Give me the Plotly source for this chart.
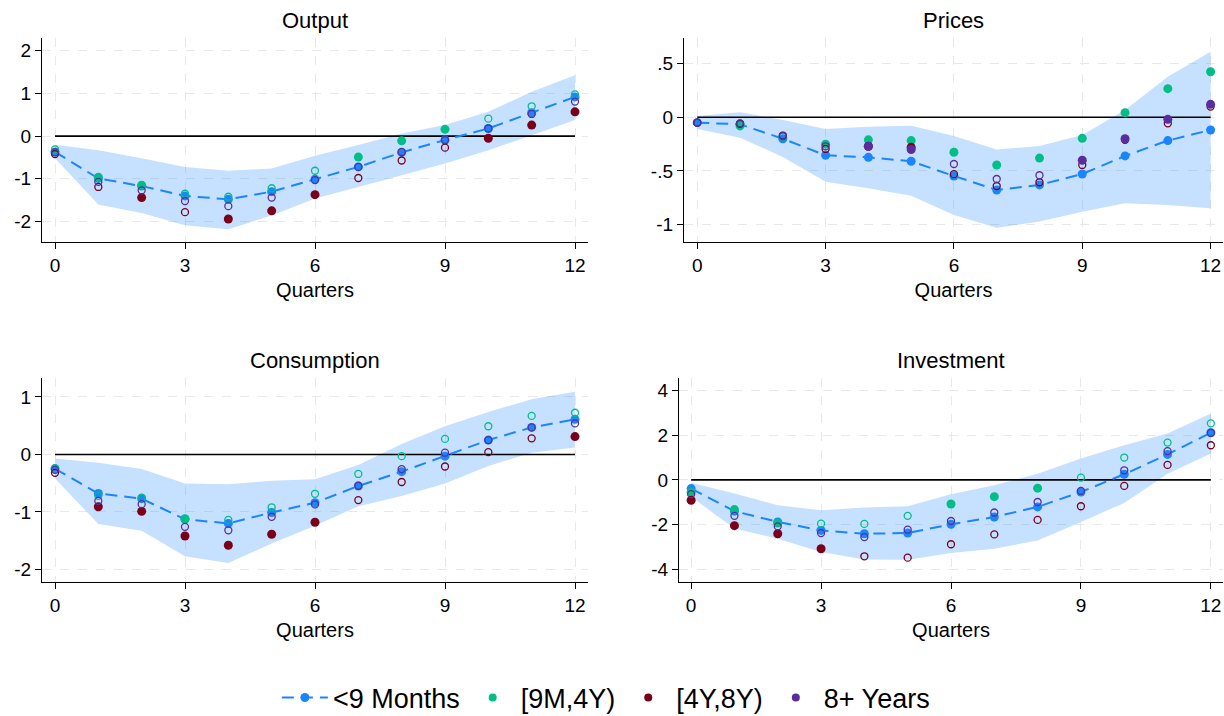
import plotly.graph_objects as go

quarters = list(range(13))

# ---------------- Output ----------------
out_blue = [-0.37, -0.99, -1.17, -1.40, -1.48, -1.30, -1.01, -0.72, -0.38, -0.09, 0.18, 0.55, 0.92]
out_hi = [-0.20, -0.33, -0.52, -0.72, -0.81, -0.76, -0.46, -0.21, 0.06, 0.26, 0.57, 1.04, 1.43]
out_lo = [-0.52, -1.60, -1.80, -2.09, -2.18, -1.86, -1.46, -1.19, -0.92, -0.64, -0.33, 0.02, 0.38]
out_green = [-0.31, -0.96, -1.15, -1.35, -1.42, -1.22, -0.81, -0.49, -0.11, 0.16, 0.41, 0.70, 0.98]
out_green_sig = [0, 1, 1, 0, 0, 0, 0, 1, 1, 1, 0, 0, 0]
out_red = [-0.42, -1.19, -1.44, -1.78, -1.94, -1.75, -1.37, -0.98, -0.57, -0.27, -0.05, 0.26, 0.57]
out_red_sig = [0, 0, 1, 0, 1, 1, 1, 0, 0, 0, 1, 1, 1]
out_purple = [-0.38, -1.07, -1.27, -1.52, -1.64, -1.44, -1.03, -0.72, -0.37, -0.09, 0.18, 0.52, 0.81]
out_purple_sig = [0, 0, 0, 0, 0, 0, 0, 0, 0, 0, 0, 0, 0]

# ---------------- Prices ----------------
pr_blue = [-0.05, -0.065, -0.20, -0.354, -0.373, -0.41, -0.547, -0.677, -0.63, -0.528, -0.36, -0.217, -0.118]
pr_hi = [0.012, 0.047, -0.025, -0.11, -0.087, -0.078, -0.174, -0.30, -0.267, -0.165, 0.068, 0.379, 0.612]
pr_lo = [-0.11, -0.19, -0.37, -0.60, -0.66, -0.73, -0.91, -1.03, -0.97, -0.88, -0.80, -0.817, -0.848]
pr_green = [-0.05, -0.08, -0.18, -0.25, -0.21, -0.217, -0.326, -0.444, -0.38, -0.196, 0.043, 0.267, 0.425]
pr_green_sig = [0, 1, 0, 1, 1, 1, 1, 1, 1, 1, 1, 1, 1]
pr_red = [-0.05, -0.06, -0.17, -0.295, -0.27, -0.28, -0.53, -0.64, -0.605, -0.444, -0.21, -0.056, 0.10]
pr_red_sig = [0, 0, 0, 0, 1, 1, 0, 0, 0, 0, 0, 0, 0]
pr_purple = [-0.05, -0.056, -0.174, -0.27, -0.27, -0.30, -0.435, -0.575, -0.54, -0.40, -0.20, -0.019, 0.121]
pr_purple_sig = [0, 0, 0, 0, 1, 1, 0, 0, 0, 1, 1, 1, 1]

# ---------------- Consumption ----------------
co_blue = [-0.25, -0.68, -0.77, -1.13, -1.20, -1.01, -0.84, -0.55, -0.30, -0.03, 0.25, 0.47, 0.61]
co_hi = [-0.07, -0.145, -0.255, -0.505, -0.517, -0.46, -0.43, -0.186, 0.18, 0.49, 0.74, 0.96, 1.09]
co_lo = [-0.42, -1.21, -1.33, -1.77, -1.89, -1.55, -1.24, -0.90, -0.725, -0.505, -0.20, 0.03, 0.12]
co_green = [-0.24, -0.72, -0.75, -1.12, -1.14, -0.92, -0.685, -0.34, -0.03, 0.27, 0.49, 0.67, 0.725]
co_green_sig = [0, 0, 0, 1, 0, 0, 0, 0, 0, 0, 0, 0, 0]
co_red = [-0.32, -0.91, -0.99, -1.42, -1.58, -1.39, -1.18, -0.795, -0.48, -0.21, 0.04, 0.28, 0.31]
co_red_sig = [0, 1, 1, 1, 1, 1, 1, 0, 0, 0, 0, 0, 1]
co_purple = [-0.27, -0.81, -0.865, -1.26, -1.32, -1.085, -0.87, -0.545, -0.255, 0.03, 0.25, 0.47, 0.54]
co_purple_sig = [0, 0, 0, 0, 0, 0, 0, 0, 0, 0, 0, 0, 0]

# ---------------- Investment ----------------
in_blue = [-0.39, -1.40, -1.88, -2.26, -2.41, -2.38, -1.99, -1.66, -1.21, -0.54, 0.25, 1.14, 2.11]
in_hi = [-0.13, -0.61, -1.14, -1.36, -1.24, -1.18, -0.64, -0.24, 0.28, 0.96, 1.55, 2.08, 2.97]
in_lo = [-0.76, -2.18, -2.63, -3.23, -3.56, -3.57, -3.27, -3.08, -2.71, -1.88, -1.03, 0.28, 1.18]
in_green = [-0.55, -1.33, -1.93, -1.96, -1.97, -1.61, -1.08, -0.75, -0.37, 0.10, 1.00, 1.67, 2.53]
in_green_sig = [1, 1, 1, 0, 0, 0, 1, 1, 1, 0, 0, 0, 0]
in_red = [-0.91, -2.05, -2.41, -3.08, -3.42, -3.48, -2.88, -2.44, -1.79, -1.18, -0.27, 0.67, 1.55]
in_red_sig = [1, 1, 1, 1, 0, 0, 0, 0, 0, 0, 0, 0, 0]
in_purple = [-0.64, -1.61, -2.08, -2.38, -2.56, -2.23, -1.84, -1.46, -0.99, -0.49, 0.43, 1.29, 2.11]
in_purple_sig = [0, 0, 0, 0, 0, 0, 0, 0, 0, 0, 0, 0, 0]

panel_titles = ["Output", "Prices", "Consumption", "Investment"]
series_names = ["<9 Months", "[9M,4Y)", "[4Y,8Y)", "8+ Years"]
x_ticks = [0, 3, 6, 9, 12]
y_ticks = [[-2, -1, 0, 1, 2], [-1, -0.5, 0, 0.5], [-2, -1, 0, 1], [-4, -2, 0, 2, 4]]
y_ticktext = [["-2", "-1", "0", "1", "2"], ["-1", "-.5", "0", ".5"], ["-2", "-1", "0", "1"], ["-4", "-2", "0", "2", "4"]]

BLUE = "#1a85ff"
BAND = "rgba(26,133,255,0.25)"
GREEN = "#00bf86"
RED = "#7a0019"
PURPLE = "#5a2d9e"
FONT = "Arial, Liberation Sans, Helvetica, sans-serif"

panels = [
    (out_blue, out_hi, out_lo, [(out_green, out_green_sig), (out_red, out_red_sig), (out_purple, out_purple_sig)]),
    (pr_blue, pr_hi, pr_lo, [(pr_green, pr_green_sig), (pr_red, pr_red_sig), (pr_purple, pr_purple_sig)]),
    (co_blue, co_hi, co_lo, [(co_green, co_green_sig), (co_red, co_red_sig), (co_purple, co_purple_sig)]),
    (in_blue, in_hi, in_lo, [(in_green, in_green_sig), (in_red, in_red_sig), (in_purple, in_purple_sig)]),
]

W, H = 1224, 716
# pixel boxes of plot areas: (left, right, top, bottom)
boxes = [(42, 588, 38, 242), (684, 1223, 38, 242), (42, 588, 378, 582), (679, 1223, 378, 582)]
x_ranges = [[-0.30, 12.30], [-0.31, 12.29], [-0.30, 12.30], [-0.28, 12.28]]
y_ranges = [[-2.48, 2.30], [-1.162, 0.739], [-2.22, 1.33], [-4.57, 4.56]]

fig = go.Figure()
group_colors = [GREEN, RED, PURPLE]

for i, (blue, hi, lo, groups) in enumerate(panels):
    xa = "x" if i == 0 else f"x{i+1}"
    ya = "y" if i == 0 else f"y{i+1}"
    # confidence band
    fig.add_trace(go.Scatter(x=quarters + quarters[::-1], y=hi + lo[::-1], fill="toself",
                             fillcolor=BAND, line=dict(width=0), mode="lines",
                             hoverinfo="skip", showlegend=False, xaxis=xa, yaxis=ya))
    # zero line
    fig.add_trace(go.Scatter(x=[quarters[0], quarters[-1]], y=[0, 0], mode="lines",
                             line=dict(color="black", width=1.6), showlegend=False,
                             hoverinfo="skip", xaxis=xa, yaxis=ya))
    # <9 months
    fig.add_trace(go.Scatter(x=quarters, y=blue, mode="lines+markers",
                             line=dict(color=BLUE, width=2, dash="12px,7px"),
                             marker=dict(color=BLUE, size=9),
                             name=series_names[0], showlegend=(i == 0), legendgroup="g0",
                             xaxis=xa, yaxis=ya))
    for g, ((vals, sig), col) in enumerate(zip(groups, group_colors)):
        xf = [q for q, s in zip(quarters, sig) if s]
        yf = [v for v, s in zip(vals, sig) if s]
        xh = [q for q, s in zip(quarters, sig) if not s]
        yh = [v for v, s in zip(vals, sig) if not s]
        fig.add_trace(go.Scatter(x=xh, y=yh, mode="markers",
                                 marker=dict(symbol="circle-open", color=col, size=7,
                                             line=dict(color=col, width=1.3)),
                                 showlegend=False, legendgroup=f"g{g+1}", xaxis=xa, yaxis=ya))
        fig.add_trace(go.Scatter(x=xf, y=yf, mode="markers",
                                 marker=dict(symbol="circle", color=col, size=9),
                                 showlegend=False, legendgroup=f"g{g+1}", xaxis=xa, yaxis=ya))

# legend entries (filled markers)
for g, col in enumerate(group_colors):
    fig.add_trace(go.Scatter(x=[None], y=[None], mode="markers",
                             marker=dict(symbol="circle", color=col, size=8),
                             name=series_names[g + 1], legendgroup=f"g{g+1}", showlegend=True))

layout = dict(
    width=W, height=H,
    margin=dict(l=0, r=0, t=0, b=0, autoexpand=False),
    paper_bgcolor="white", plot_bgcolor="white",
    font=dict(family=FONT, color="black", size=19),
    showlegend=True,
    legend=dict(orientation="h", x=0.495, xanchor="center", y=-0.009, yanchor="bottom",
                font=dict(size=27, family=FONT), itemwidth=46, tracegroupgap=0),
    annotations=[],
)

for i in range(4):
    l, r, t, b = boxes[i]
    xk = "xaxis" if i == 0 else f"xaxis{i+1}"
    yk = "yaxis" if i == 0 else f"yaxis{i+1}"
    ya = "y" if i == 0 else f"y{i+1}"
    xa = "x" if i == 0 else f"x{i+1}"
    layout[xk] = dict(domain=[l / W, r / W], anchor=ya, range=x_ranges[i],
                      tickvals=x_ticks, ticks="outside", ticklen=6, tickwidth=1.3, tickcolor="black",
                      showline=True, linecolor="black", linewidth=1.3,
                      showgrid=True, gridcolor="#e8e8e8", griddash="dash", gridwidth=1.2,
                      zeroline=False, tickfont=dict(size=19), automargin=False,
                      title=dict(text="Quarters", font=dict(size=20), standoff=8))
    layout[yk] = dict(domain=[1 - b / H, 1 - t / H], anchor=xa, range=y_ranges[i],
                      tickvals=y_ticks[i], ticktext=y_ticktext[i],
                      ticks="outside", ticklen=6, tickwidth=1.3, tickcolor="black",
                      showline=True, linecolor="black", linewidth=1.3,
                      showgrid=True, gridcolor="#e8e8e8", griddash="dash", gridwidth=1.2,
                      zeroline=False, tickfont=dict(size=19), automargin=False)
    layout["annotations"].append(dict(text=panel_titles[i], x=(l + r) / 2 / W, y=1 - (t - 18) / H,
                                      xref="paper", yref="paper", showarrow=False,
                                      xanchor="center", yanchor="middle",
                                      font=dict(size=22, family=FONT)))

fig.update_layout(**layout)
fig.write_html("out.html")
